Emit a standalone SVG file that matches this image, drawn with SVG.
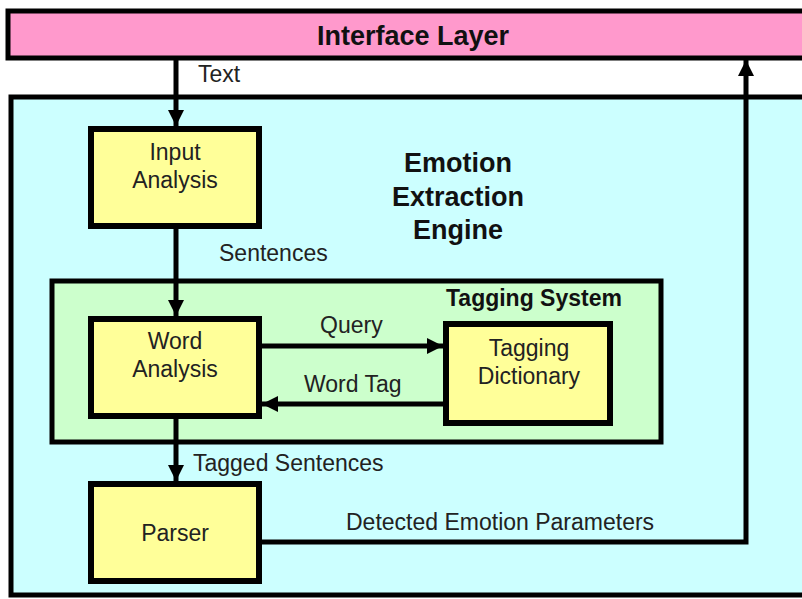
<svg xmlns="http://www.w3.org/2000/svg" width="802" height="599" viewBox="0 0 802 599">
<defs>
<marker id="ah" markerUnits="userSpaceOnUse" markerWidth="16" markerHeight="16" viewBox="0 0 16 16" refX="16" refY="8" orient="auto">
<path d="M0,0 L16,8 L0,16 z" fill="#000"/>
</marker>
<style>
.box{fill:#ffff99;stroke:#000;stroke-width:6}
.t{font-family:"Liberation Sans",Arial,sans-serif;font-size:23px;fill:#222}
.b{font-family:"Liberation Sans",Arial,sans-serif;font-weight:bold;fill:#111}
.c{text-anchor:middle}
.ln{fill:none;stroke:#000;stroke-width:5}
</style>
</defs>
<rect width="802" height="599" fill="#fff"/>
<g id="interface">
<rect x="8" y="11" width="830" height="47" fill="#ff99cc" stroke="#000" stroke-width="5"/>
<text class="b c" x="413" y="45" font-size="27">Interface Layer</text>
</g>
<g id="engine">
<rect x="11" y="97" width="830" height="498" fill="#ccffff" stroke="#000" stroke-width="5"/>
<text class="b c" x="458" y="172" font-size="27">Emotion</text>
<text class="b c" x="458" y="206" font-size="27">Extraction</text>
<text class="b c" x="458" y="239" font-size="27">Engine</text>
</g>
<g id="tagging-system">
<rect x="52" y="281" width="609" height="161" fill="#ccffcc" stroke="#000" stroke-width="5"/>
<text class="b" x="446" y="306" font-size="23">Tagging System</text>
</g>
<g id="input-analysis">
<rect class="box" x="91" y="129" width="168" height="97"/>
<text class="t c" x="175" y="160">Input</text>
<text class="t c" x="175" y="188">Analysis</text>
</g>
<g id="word-analysis">
<rect class="box" x="91" y="319" width="168" height="97"/>
<text class="t c" x="175" y="349">Word</text>
<text class="t c" x="175" y="377">Analysis</text>
</g>
<g id="tagging-dictionary">
<rect class="box" x="446" y="324" width="164" height="99"/>
<text class="t c" x="529" y="356">Tagging</text>
<text class="t c" x="529" y="384">Dictionary</text>
</g>
<g id="parser">
<rect class="box" x="91" y="484" width="168" height="97"/>
<text class="t c" x="175" y="541">Parser</text>
</g>
<g id="connectors">
<line class="ln" x1="176" y1="59" x2="176" y2="126" marker-end="url(#ah)"/>
<line class="ln" x1="176" y1="229" x2="176" y2="316" marker-end="url(#ah)"/>
<line class="ln" x1="262" y1="346" x2="443" y2="346" marker-end="url(#ah)"/>
<line class="ln" x1="443" y1="404" x2="262" y2="404" marker-end="url(#ah)"/>
<line class="ln" x1="176" y1="419" x2="176" y2="481" marker-end="url(#ah)"/>
<polyline class="ln" points="262,542 746,542 746,60" marker-end="url(#ah)"/>
<text class="t" x="198" y="82">Text</text>
<text class="t" x="219" y="261">Sentences</text>
<text class="t" x="320" y="333">Query</text>
<text class="t" x="304" y="392">Word Tag</text>
<text class="t" x="193" y="471">Tagged Sentences</text>
<text class="t" x="346" y="530">Detected Emotion Parameters</text>
</g>
</svg>
